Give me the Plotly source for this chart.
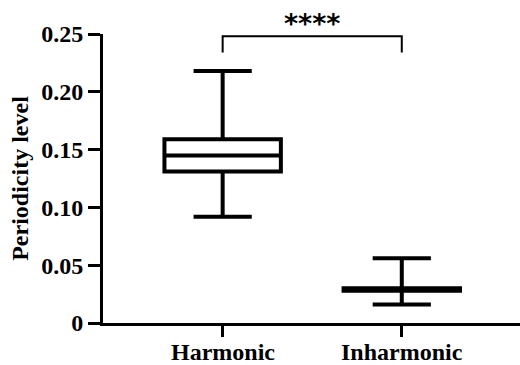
import plotly.graph_objects as go

# Summary statistics for each condition
categories = ["Harmonic", "Inharmonic"]
positions = [0, 1]
lower_whisker = [0.092, 0.016]
q1 = [0.131, 0.028]
median = [0.145, 0.029]
q3 = [0.159, 0.030]
upper_whisker = [0.218, 0.056]

y_ticks = [0, 0.05, 0.10, 0.15, 0.20, 0.25]
y_tick_labels = ["0", "0.05", "0.10", "0.15", "0.20", "0.25"]

significance = "****"
bracket_top = 0.248
bracket_leg = 0.234

FONT = "Liberation Serif, Times New Roman, serif"
SIZE = 24

fig = go.Figure()
fig.add_trace(go.Box(
    x=positions,
    q1=q1, median=median, q3=q3,
    lowerfence=lower_whisker, upperfence=upper_whisker,
    width=0.65,
    whiskerwidth=0.5,
    fillcolor="white",
    line=dict(color="black", width=4),
    boxpoints=False,
    hoverinfo="skip",
    showlegend=False,
))

# Significance bracket between the two groups
fig.add_shape(
    type="path",
    path=f"M {positions[0]},{bracket_leg} L {positions[0]},{bracket_top} "
         f"L {positions[1]},{bracket_top} L {positions[1]},{bracket_leg}",
    xref="x", yref="y",
    line=dict(color="black", width=2),
)
fig.add_annotation(
    x=(positions[0] + positions[1]) / 2, y=bracket_top,
    xref="x", yref="y",
    text=significance, showarrow=False,
    yanchor="bottom", yshift=-5,
    font=dict(family="DejaVu Sans, Arial, sans-serif", size=27, color="black", weight="bold"),
)

# Category labels sit just under the tick marks
for pos, name in zip(positions, categories):
    fig.add_annotation(
        x=pos, y=0, xref="x", yref="paper",
        text=name, showarrow=False,
        yanchor="top", yshift=-14,
        font=dict(family=FONT, size=SIZE, color="black", weight="bold"),
    )

fig.update_layout(
    width=520, height=365,
    margin=dict(l=103, r=0, t=34, b=42),
    plot_bgcolor="white", paper_bgcolor="white",
    font=dict(family=FONT, size=SIZE, color="black", weight="bold"),
)
fig.update_xaxes(
    range=[-0.668, 1.66],
    tickvals=positions, showticklabels=False,
    showline=True, linecolor="black", linewidth=3,
    ticks="outside", ticklen=11, tickwidth=3, tickcolor="black",
    showgrid=False, zeroline=False, automargin=False,
)
fig.update_yaxes(
    range=[0, 0.25],
    tickvals=y_ticks, ticktext=y_tick_labels,
    showline=True, linecolor="black", linewidth=3,
    ticks="outside", ticklen=12, tickwidth=3, tickcolor="black",
    showgrid=False, zeroline=False, automargin=False,
    tickfont=dict(family=FONT, size=SIZE, color="black", weight="bold"),
    title=dict(text="Periodicity level", standoff=6,
               font=dict(family=FONT, size=SIZE, color="black", weight="bold")),
)

fig.write_html("out.html")
